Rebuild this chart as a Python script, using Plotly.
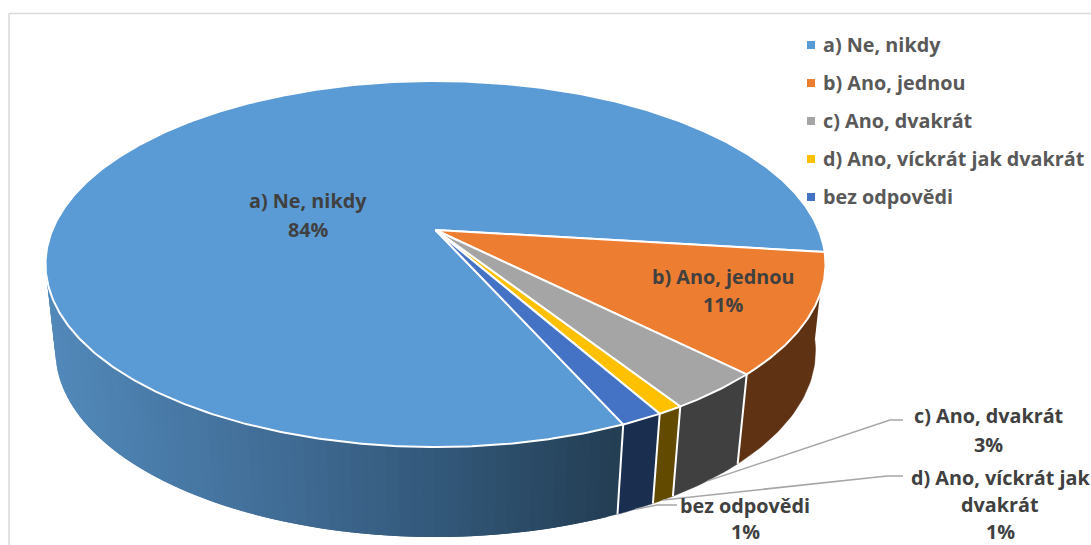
import math
import plotly.graph_objects as go

# Survey answers, share of respondents in percent
categories = ["a) Ne, nikdy", "b) Ano, jednou", "c) Ano, dvakrát", "d) Ano, víckrát jak dvakrát", "bez odpovědi"]
shares = [83.61, 10.6, 3.4, 0.9, 1.49]
top_colors = ["#5B9BD5", "#ED7D31", "#A5A5A5", "#FFC000", "#4472C4"]
wall_colors = [None, "#5F3214", "#404040", "#624A00", "#1A2E50"]

# Canvas and disc geometry, in pixel-like axis units
WIDTH, HEIGHT = 1091, 545
FIRST_SLICE_DEG = 66.0
CX = 435.5
TOP = dict(cy=230, rx=383.2, ry=176.7, p=0.1858)
BOTTOM = dict(cy=317.5, rx=373.8, ry=180, p=0.18)
FONT = "Open Sans"
FONT_SIZE = 19.8


def project(theta_deg, radius, disc):
    """Perspective projection of a point on a tilted disc; theta runs clockwise from east."""
    t = math.radians(theta_deg)
    u, v = radius * math.cos(t), radius * math.sin(t)
    s = 1 / (1 - disc["p"] * v)
    return CX + disc["rx"] * u * s, disc["cy"] + disc["ry"] * v * s


def arc(a0, a1, disc, step=1.0):
    n = max(2, int(abs(a1 - a0) / step) + 1)
    return [project(a0 + (a1 - a0) * i / (n - 1), 1, disc) for i in range(n)]


def mix(stops, x):
    """Colour of the shaded outer wall at horizontal position x."""
    for (x0, c0), (x1, c1) in zip(stops, stops[1:]):
        if x <= x1:
            f = max(0, (x - x0) / (x1 - x0))
            return "rgb(%d,%d,%d)" % tuple(c0[i] + (c1[i] - c0[i]) * f for i in range(3))
    return "rgb(%d,%d,%d)" % stops[-1][1]


WALL_SHADE = [(50, (82, 137, 186)), (300, (63, 106, 146)), (450, (50, 87, 120)), (620, (36, 62, 84))]

fig = go.Figure()


def polygon(points, fill, line_color, line_width):
    fig.add_trace(go.Scatter(
        x=[p[0] for p in points], y=[p[1] for p in points],
        mode="lines", fill="toself", fillcolor=fill,
        line=dict(color=line_color, width=line_width),
        hoverinfo="skip", showlegend=False))


# Slice boundaries derived from the shares
edges = []
angle = FIRST_SLICE_DEG
for share in shares:
    edges.append((angle, angle + share * 3.6))
    angle += share * 3.6

# Outer wall, only the part facing the viewer; each strip overlaps the next one
WALL_END = 172
WALL_STEP = 1.5
theta = edges[0][0]
while theta < WALL_END:
    nxt = min(theta + WALL_STEP, WALL_END)
    far = min(nxt + WALL_STEP, WALL_END)
    quad = arc(far, theta, TOP, WALL_STEP) + arc(theta, far, BOTTOM, WALL_STEP)
    mid_x = (project(theta, 1, TOP)[0] + project(nxt, 1, TOP)[0]) / 2
    polygon(quad, mix(WALL_SHADE, mid_x), "rgba(0,0,0,0)", 0)
    theta = nxt
for i in range(1, len(shares)):
    s0, s1 = edges[i][0] - 360, edges[i][1] - 360
    polygon(arc(s0, s1, TOP) + arc(s1, s0, BOTTOM), wall_colors[i], wall_colors[i], 0.5)

# White separators on the wall
for i in range(1, len(shares)):
    s = edges[i][1] - 360
    pa, pb = project(s, 1, TOP), project(s, 1, BOTTOM)
    fig.add_trace(go.Scatter(x=[pa[0], pb[0]], y=[pa[1], pb[1]], mode="lines",
                             line=dict(color="white", width=2), hoverinfo="skip", showlegend=False))

# Top face of the pie
apex = project(0, 0, TOP)
for i, (s0, s1) in enumerate(edges):
    polygon([apex] + arc(s0, s1, TOP, 0.5) + [apex], top_colors[i], "white", 2)

# Leader lines from the thin slices to their outside labels
LEADER_GRAY = "#A6A6A6"
leaders = {2: [(890, 420), (903, 420)], 3: [(887, 476), (903, 476)], 4: [(657, 505), (677, 505)]}
for i, bend in leaders.items():
    mid = (edges[i][0] + edges[i][1]) / 2 - 360
    start = project(mid, 1, BOTTOM)
    pts = [start] + bend
    fig.add_trace(go.Scatter(x=[p[0] for p in pts], y=[p[1] for p in pts], mode="lines",
                             line=dict(color=LEADER_GRAY, width=1.5), hoverinfo="skip", showlegend=False))

# Legend: square swatches in a column with the names to their right
LEGEND_X, LEGEND_TEXT_X, LEGEND_Y0, LEGEND_STEP = 811, 822, 45, 38
legend_y = [LEGEND_Y0 + i * LEGEND_STEP for i in range(len(categories))]
fig.add_trace(go.Scatter(
    x=[LEGEND_X] * len(categories), y=legend_y, mode="markers",
    marker=dict(symbol="square", size=8, color=top_colors, line=dict(width=0)),
    hoverinfo="skip", showlegend=False))
annotations = []


def text(x, y, s, color, anchor="center"):
    annotations.append(dict(x=x, y=y, xref="x", yref="y", text=f"<b>{s}</b>", showarrow=False,
                            xanchor=anchor, yanchor="middle", borderpad=0,
                            font=dict(family=FONT, size=FONT_SIZE, color=color)))


for name, y in zip(categories, legend_y):
    text(LEGEND_TEXT_X, y - 1, name, "#595959", "left")

# Data labels: name lines followed by the rounded percentage
label_places = [
    (308, 200, 29, ["a) Ne, nikdy"]),
    (723, 276, 28, ["b) Ano, jednou"]),
    (988, 415, 29, ["c) Ano, dvakrát"]),
    (1000, 477, 27.25, ["d) Ano, víckrát jak", "dvakrát"]),
    (745, 505, 26.5, ["bez odpovědi"]),
]
for share, (x, y, step, lines) in zip(shares, label_places):
    for k, line in enumerate(lines + [f"{round(share)}%"]):
        text(x, y + k * step, line, "#404040")

fig.update_layout(
    width=WIDTH, height=HEIGHT, margin=dict(l=0, r=0, t=0, b=0),
    paper_bgcolor="white", plot_bgcolor="white",
    xaxis=dict(range=[0, WIDTH], visible=False, fixedrange=True),
    yaxis=dict(range=[HEIGHT, 0], visible=False, fixedrange=True),
    annotations=annotations,
    showlegend=False,
    shapes=[
        # chart frame, running off the canvas on the right and at the bottom
        dict(type="line", xref="x", yref="y", x0=9, x1=WIDTH, y0=13.5, y1=13.5, line=dict(color="#D9D9D9", width=1.5), layer="below"),
        dict(type="line", xref="x", yref="y", x0=9, x1=9, y0=13.5, y1=HEIGHT, line=dict(color="#D9D9D9", width=1.5), layer="below"),
    ],
)
fig.write_html("out.html", config=dict(displayModeBar=False))
